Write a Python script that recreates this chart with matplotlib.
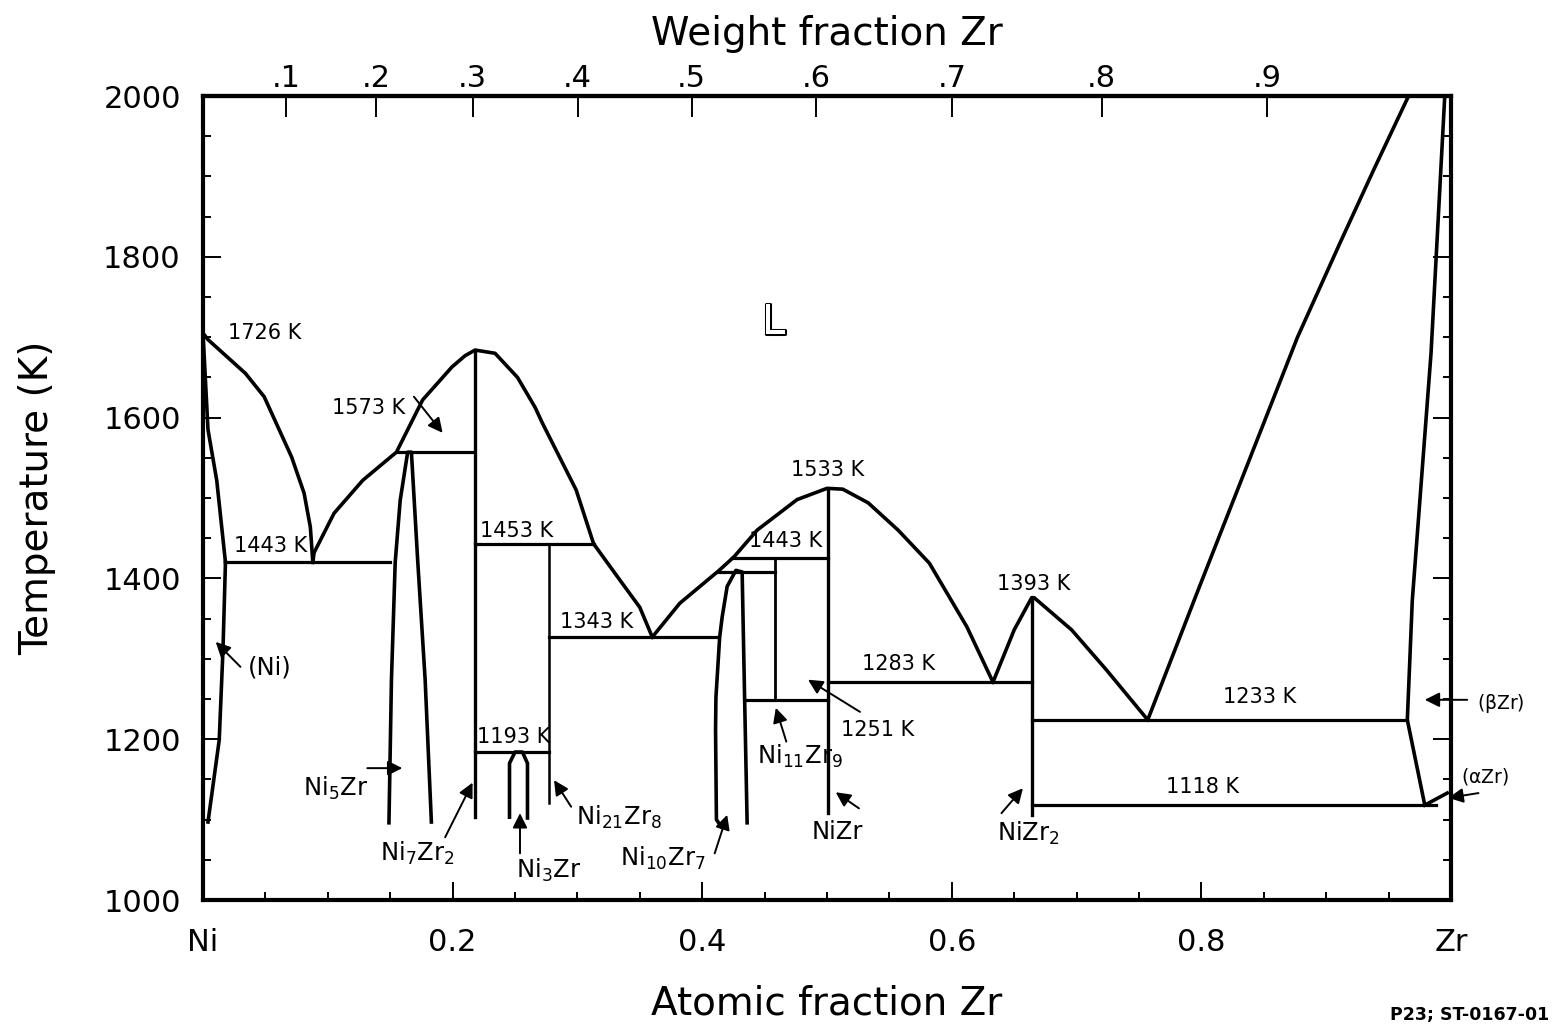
import numpy as np
import matplotlib
matplotlib.use("Agg")
import matplotlib.pyplot as plt
import matplotlib.patheffects as pe

plt.rcParams['font.family'] = ['DejaVu Sans']
plt.rcParams['mathtext.default'] = 'regular'

# ---------------- data (atomic fraction Zr, temperature K) ----------------
M_NI, M_ZR = 58.69, 91.224

ni_liq_x = [0.0, 0.004, 0.034, 0.049, 0.071, 0.081, 0.086, 0.088]
ni_liq_T = [1705, 1697, 1655, 1626, 1551, 1506, 1464, 1420]

ni_sol_x = [0.0, 0.004, 0.011, 0.018]
ni_sol_T = [1705, 1585, 1522, 1420]

ni_solvus_x = [0.018, 0.016, 0.013, 0.004]
ni_solvus_T = [1420, 1311, 1199, 1097]

ni5zr_x = [0.149, 0.151, 0.154, 0.158, 0.164, 0.167, 0.172, 0.178, 0.183]
ni5zr_T = [1096, 1274, 1420, 1497, 1557, 1557, 1423, 1274, 1097]

liq2_x = [0.088, 0.089, 0.105, 0.128, 0.155, 0.165, 0.176, 0.1995, 0.210, 0.218,
          0.234, 0.252, 0.266, 0.272, 0.299, 0.313, 0.334, 0.350, 0.360]
liq2_T = [1420, 1432, 1481, 1522, 1557, 1588, 1622, 1663, 1677, 1684,
          1680, 1650, 1613, 1593, 1510, 1443, 1398, 1364, 1327]

ni3zr_x = [0.2456, 0.2456, 0.250, 0.256, 0.260, 0.260]
ni3zr_T = [1103, 1170, 1184, 1184, 1170, 1102]

ni10zr7_x = [0.4154, 0.4114, 0.4107, 0.411, 0.414, 0.416, 0.420, 0.427, 0.432, 0.434, 0.436]
ni10zr7_T = [1091, 1100, 1211, 1252, 1327, 1352, 1390, 1410, 1408, 1250, 1096]

liq3_x = [0.360, 0.382, 0.4136, 0.4256, 0.444, 0.476, 0.500, 0.5126, 0.533, 0.557, 0.582, 0.612, 0.633]
liq3_T = [1327, 1369, 1410, 1427, 1460, 1498, 1512, 1511, 1494, 1460, 1419, 1340, 1271]

liq4_x = [0.633, 0.650, 0.664, 0.666, 0.696, 0.724, 0.757]
liq4_T = [1271, 1336, 1376, 1376, 1336, 1286, 1224]

zr_liq_x = [0.757, 0.797, 0.837, 0.877, 0.911, 0.938, 0.966]
zr_liq_T = [1224, 1384, 1542, 1700, 1817, 1908, 2000]

bzr_x = [0.995, 0.984, 0.969, 0.965, 0.979]
bzr_T = [2000, 1680, 1373, 1224, 1118]

azr_x = [0.979, 0.997]
azr_T = [1118, 1133]

# compounds: (x, T_top, T_bottom)
comp_names = ['Ni7Zr2', 'Ni21Zr8', 'Ni11Zr9', 'NiZr', 'NiZr2']
comp_x = [0.218, 0.277, 0.458, 0.501, 0.664]
comp_Ttop = [1684, 1443, 1425, 1510, 1376]
comp_Tbot = [1103, 1121, 1249, 1108, 1106]

# invariant (horizontal) lines: label, T, x_left, x_right
inv_label = ['1443 K', '1573 K', '1453 K', '1343 K', '1193 K', '1408', '1443 K b',
             '1251 K', '1283 K', '1233 K', '1118 K']
inv_T = [1420, 1557, 1443, 1327, 1184, 1408, 1425, 1249, 1271, 1224, 1118]
inv_x1 = [0.018, 0.156, 0.218, 0.277, 0.218, 0.413, 0.424, 0.435, 0.501, 0.664, 0.664]
inv_x2 = [0.150, 0.217, 0.313, 0.412, 0.277, 0.458, 0.501, 0.501, 0.664, 0.965, 0.988]

x_tick_vals = [0, 0.2, 0.4, 0.6, 0.8, 1.0]
x_tick_labels = ['Ni', '0.2', '0.4', '0.6', '0.8', 'Zr']
y_tick_vals = [1000, 1200, 1400, 1600, 1800, 2000]
wt_tick_vals = [0.1, 0.2, 0.3, 0.4, 0.5, 0.6, 0.7, 0.8, 0.9]
wt_tick_labels = ['.1', '.2', '.3', '.4', '.5', '.6', '.7', '.8', '.9']

# ---------------- figure ----------------
fig = plt.figure(figsize=(15.53, 10.28), dpi=100)
ax = fig.add_axes([203 / 1553, 1 - 900 / 1028, 1248 / 1553, 804 / 1028])
ax.set_xlim(0, 1)
ax.set_ylim(1000, 2000)

LW = 2.6
k = 'black'
for xs, ts in [(ni_liq_x, ni_liq_T), (ni_sol_x, ni_sol_T), (ni_solvus_x, ni_solvus_T),
               (ni5zr_x, ni5zr_T), (liq2_x, liq2_T), (ni3zr_x, ni3zr_T),
               (ni10zr7_x, ni10zr7_T), (liq3_x, liq3_T), (liq4_x, liq4_T),
               (zr_liq_x, zr_liq_T), (bzr_x, bzr_T), (azr_x, azr_T)]:
    ax.plot(xs, ts, color=k, lw=LW, solid_joinstyle='round')

thin = {'Ni21Zr8': 1.8, 'Ni11Zr9': 2.0}
for name, cx, t1, t2 in zip(comp_names, comp_x, comp_Ttop, comp_Tbot):
    ax.plot([cx, cx], [t1, t2], color=k, lw=thin.get(name, 2.4))

for lab, T, x1, x2 in zip(inv_label, inv_T, inv_x1, inv_x2):
    ax.plot([x1, x2], [T, T], color=k, lw=2.3)

# ---------------- ticks ----------------
for s in ax.spines.values():
    s.set_linewidth(3.0)
ax.set_xticks(x_tick_vals)
ax.set_xticklabels(x_tick_labels)
ax.set_xticks(np.arange(0, 1.0001, 0.05), minor=True)
ax.set_yticks(y_tick_vals)
ax.set_yticks(np.arange(1000, 2001, 50), minor=True)
ax.tick_params(which='both', direction='in', top=False, right=True, width=1.4)
ax.tick_params(which='major', length=13)
ax.tick_params(which='minor', length=6)
ax.tick_params(axis='x', which='major', labelsize=22, pad=20)
ax.tick_params(axis='y', which='major', labelsize=22, pad=16)
ax.set_xlabel('Atomic fraction Zr', fontsize=28, labelpad=20)
ax.set_ylabel('Temperature (K)', fontsize=28, labelpad=34)


def at2wt(x):
    x = np.asarray(x, dtype=float)
    with np.errstate(divide='ignore', invalid='ignore'):
        return x * M_ZR / (x * M_ZR + (1 - x) * M_NI)


def wt2at(w):
    w = np.asarray(w, dtype=float)
    with np.errstate(divide='ignore', invalid='ignore'):
        return (w / M_ZR) / (w / M_ZR + (1 - w) / M_NI)


sec = ax.secondary_xaxis('top', functions=(at2wt, wt2at))
sec.set_xticks(wt_tick_vals)
sec.set_xticklabels(wt_tick_labels)
sec.tick_params(direction='in', length=15, width=1.4, pad=2, labelsize=22)
sec.spines['top'].set_linewidth(3.0)
sec.set_xlabel('Weight fraction Zr', fontsize=28, labelpad=14)

# ---------------- labels ----------------
fs = 15
txt = [
    ('1726 K', 0.020, 1705), ('1573 K', 0.103, 1612), ('1443 K', 0.025, 1440),
    ('1453 K', 0.222, 1459), ('1343 K', 0.286, 1346), ('1193 K', 0.2195, 1203),
    ('1533 K', 0.471, 1535), ('1443 K', 0.4375, 1446), ('1283 K', 0.528, 1294),
    ('1393 K', 0.636, 1393), ('1233 K', 0.817, 1252), ('1118 K', 0.772, 1140),
    ('1251 K', 0.511, 1211),
]
for s, x, T in txt:
    ax.text(x, T, s, fontsize=fs, ha='left', va='center')

fc = 17.5
ctxt = [
    ('(Ni)', 0.036, 1289), ('Ni$_5$Zr', 0.080, 1139), ('Ni$_7$Zr$_2$', 0.142, 1058),
    ('Ni$_3$Zr', 0.251, 1037), ('Ni$_{21}$Zr$_8$', 0.299, 1103),
    ('Ni$_{10}$Zr$_7$', 0.334, 1052), ('Ni$_{11}$Zr$_9$', 0.444, 1178),
    ('NiZr', 0.488, 1085), ('NiZr$_2$', 0.636, 1083),
]
for s, x, T in ctxt:
    ax.text(x, T, s, fontsize=fc, ha='left', va='center')
ax.text(1.021, 1245, '($\\beta$Zr)', fontsize=13.5, ha='left', va='center', clip_on=False)
ax.text(1.008, 1153, '($\\alpha$Zr)', fontsize=13.5, ha='left', va='center', clip_on=False)

arrows = [
    ((0.169, 1626), (0.192, 1581)),
    ((0.030, 1290), (0.0102, 1321)),
    ((0.1317, 1164), (0.1597, 1164)),
    ((0.194, 1078), (0.216, 1146)),
    ((0.254, 1058), (0.254, 1108)),
    ((0.295, 1116), (0.2813, 1149)),
    ((0.410, 1058), (0.420, 1106)),
    ((0.4674, 1197), (0.459, 1239)),
    ((0.5256, 1114), (0.507, 1134)),
    ((0.6398, 1108), (0.657, 1139)),
    ((0.5264, 1234), (0.4848, 1274)),
    ((1.013, 1249), (0.979, 1249)),
    ((1.022, 1133), (0.998, 1127)),
]
for (x0, y0), (x1, y1) in arrows:
    ax.annotate('', xy=(x1, y1), xytext=(x0, y0), annotation_clip=False,
                arrowprops=dict(arrowstyle='-|>', color='k', lw=1.4,
                                mutation_scale=22, shrinkA=0, shrinkB=0))

ax.text(0.457, 1719, 'L', fontsize=30, color='white', ha='center', va='center',
        path_effects=[pe.withStroke(linewidth=2.2, foreground='black')])

fig.text(1549 / 1553, 0.004, 'P23; ST-0167-01', fontsize=12.5, fontweight='bold',
         ha='right', va='bottom')

fig.savefig('out.png', dpi=100)
